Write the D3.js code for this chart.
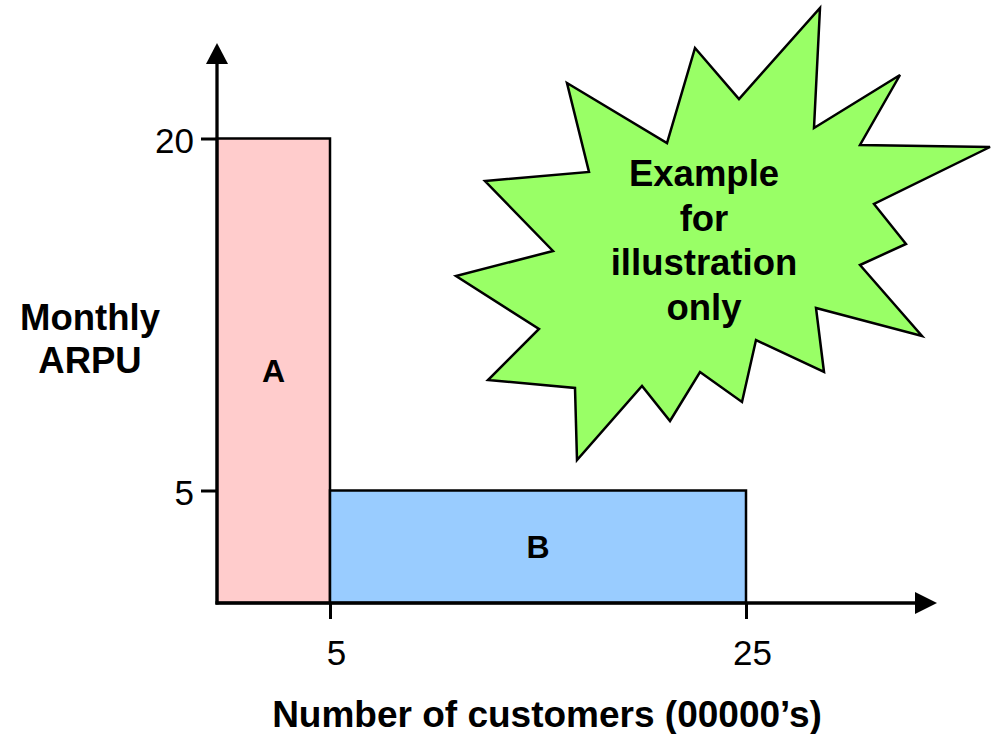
<!DOCTYPE html>
<html>
<head>
<meta charset="utf-8">
<script src="https://cdn.jsdelivr.net/npm/d3@7"></script>
<style>
  html, body { margin: 0; padding: 0; background: #fff; }
  svg { display: block; font-family: "Liberation Sans", Arial, Helvetica, sans-serif; }
</style>
</head>
<body>
<svg id="chart" width="993" height="734"></svg>
<script>
// Segments: customer count (bar width) and monthly ARPU (bar height)
const segments = ["A", "B"];
const customerEdges = [0, 5, 25];          // cumulative customers (00000's) at bar edges
const arpu = [20, 5];                      // monthly ARPU per segment
const segmentColors = ["#FFCCCC", "#99CCFF"];
const xTickValues = [5, 25];
const yTickValues = [5, 20];
const yTitleLines = ["Monthly", "ARPU"];
const xTitle = "Number of customers (00000\u2019s)";
const calloutLines = ["Example", "for", "illustration", "only"];

// Starburst callout outline (relative to its centre)
const burstCenter = [704, 240];
const burstShape = [
  [-137, -157], [-37, -97], [-9, -192], [35, -141], [116, -232], [110, -112],
  [196, -165], [156, -95], [286, -93], [170, -36], [202, 4], [156, 25],
  [218, 96], [112, 68], [120, 132], [52, 100], [38, 162], [-4, 132],
  [-34, 181], [-62, 146], [-127, 220], [-129, 148], [-216, 140], [-165, 89],
  [-248, 36], [-151, 11], [-219, -59], [-115, -68]
];

const svg = d3.select("#chart");
const origin = { x: 217, y: 603 };
const axisEnd = { x: 937, y: 43 };

// The drawing is schematic, so both axes use piecewise-linear scales
const x = d3.scaleLinear().domain([0, ...xTickValues]).range([origin.x, 330, 746]);
const y = d3.scaleLinear().domain([0, ...yTickValues]).range([origin.y, 490.5, 138.5]);

const bars = segments.map((s, i) => ({
  name: s, x0: customerEdges[i], x1: customerEdges[i + 1], v: arpu[i], color: segmentColors[i]
}));

// Bars
svg.append("g").selectAll("rect").data(bars).join("rect")
  .attr("x", d => x(d.x0))
  .attr("y", d => y(d.v))
  .attr("width", d => x(d.x1) - x(d.x0))
  .attr("height", d => y(0) - y(d.v))
  .attr("fill", d => d.color)
  .attr("stroke", "#000")
  .attr("stroke-width", 2.5);

svg.append("g").selectAll("text").data(bars).join("text")
  .attr("x", d => (x(d.x0) + x(d.x1)) / 2)
  .attr("y", d => (y(0) + y(d.v)) / 2)
  .attr("dy", "0.36em")
  .attr("text-anchor", "middle")
  .attr("font-size", 32)
  .attr("font-weight", "bold")
  .text(d => d.name);

// Axes (ticks + labels via d3-axis, domain lines replaced by arrows)
const xAxis = svg.append("g")
  .attr("transform", `translate(0,${origin.y})`)
  .call(d3.axisBottom(x).tickValues(xTickValues).tickSize(16).tickPadding(21).tickFormat(d3.format("d")));
const yAxis = svg.append("g")
  .attr("transform", `translate(${origin.x},0)`)
  .call(d3.axisLeft(y).tickValues(yTickValues).tickSize(16).tickPadding(7).tickFormat(d3.format("d")));

[xAxis, yAxis].forEach(g => {
  g.select(".domain").remove();
  g.selectAll(".tick line").attr("stroke", "#000").attr("stroke-width", 3);
  g.selectAll(".tick text").attr("fill", "#000").attr("font-size", 35)
    .attr("font-family", "'Liberation Sans', Arial, sans-serif");
});
xAxis.selectAll(".tick text").attr("dx", 6);
yAxis.selectAll(".tick text").attr("dy", "0.4em");

const axisG = svg.append("g");
axisG.append("line")
  .attr("x1", origin.x).attr("y1", origin.y + 1.5)
  .attr("x2", origin.x).attr("y2", axisEnd.y + 18)
  .attr("stroke", "#000").attr("stroke-width", 3.3);
axisG.append("line")
  .attr("x1", origin.x - 1.5).attr("y1", origin.y)
  .attr("x2", axisEnd.x - 18).attr("y2", origin.y)
  .attr("stroke", "#000").attr("stroke-width", 3.3);
axisG.append("path")
  .attr("d", `M${origin.x},${axisEnd.y} L${origin.x - 11},${axisEnd.y + 21} L${origin.x + 11},${axisEnd.y + 21} Z`)
  .attr("fill", "#000");
axisG.append("path")
  .attr("d", `M${axisEnd.x},${origin.y} L${axisEnd.x - 22},${origin.y - 11} L${axisEnd.x - 22},${origin.y + 11} Z`)
  .attr("fill", "#000");

// Axis titles
svg.append("text")
  .attr("x", 90).attr("y", 330)
  .attr("text-anchor", "middle")
  .attr("font-size", 36.5).attr("font-weight", "bold")
  .selectAll("tspan").data(yTitleLines).join("tspan")
  .attr("x", 90).attr("dy", (d, i) => i === 0 ? 0 : 43)
  .text(d => d);

svg.append("text")
  .attr("x", 547).attr("y", 727)
  .attr("text-anchor", "middle")
  .attr("font-size", 37).attr("font-weight", "bold")
  .text(xTitle);

// Starburst callout
const burst = svg.append("g").attr("transform", `translate(${burstCenter[0]},${burstCenter[1]})`);
burst.append("polygon")
  .attr("points", burstShape.map(p => p.join(",")).join(" "))
  .attr("fill", "#99FF66")
  .attr("stroke", "#000")
  .attr("stroke-width", 2.5)
  .attr("stroke-linejoin", "miter");
burst.append("text")
  .attr("text-anchor", "middle")
  .attr("font-size", 36.5).attr("font-weight", "bold")
  .selectAll("tspan").data(calloutLines).join("tspan")
  .attr("x", 0)
  .attr("y", (d, i) => -54 + i * 44.7)
  .text(d => d);
</script>
</body>
</html>
